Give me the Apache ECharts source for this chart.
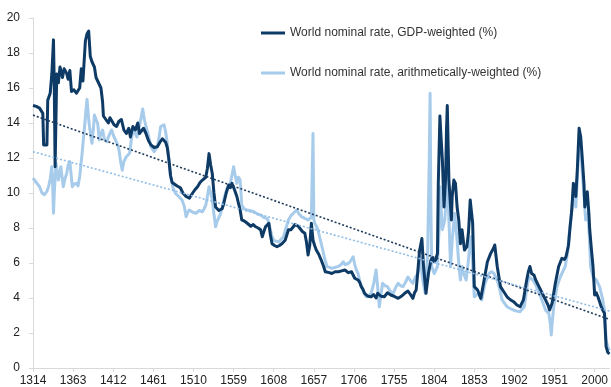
<!DOCTYPE html>
<html>
<head>
<meta charset="utf-8">
<script src="https://cdn.jsdelivr.net/npm/echarts@6/dist/echarts.min.js"></script>
<style>
  html, body { margin: 0; padding: 0; background: #ffffff; }
  #chart { width: 611px; height: 387px; }
</style>
</head>
<body>
<div id="chart"></div>
<script>
// Year ticks shown along the bottom axis
const tickYears = [1314, 1363, 1412, 1461, 1510, 1559, 1608, 1657, 1706, 1755, 1804, 1853, 1902, 1951, 2000];

// World nominal rate, GDP-weighted (%)
const gdpYears = [1314,1318,1322,1326,1327,1331,1332,1335,1337,1339,1340,1341,1343,1345,1347,1350,1352,1355,1357,1359,1361,1364,1367,1371,1373,1375,1376,1378,1380,1382,1384,1386,1389,1391,1393,1395,1397,1399,1400,1403,1406,1408,1410,1413,1416,1419,1422,1425,1428,1431,1433,1436,1439,1442,1444,1446,1449,1452,1455,1458,1462,1466,1469,1472,1476,1478,1480,1482,1484,1487,1490,1494,1497,1501,1505,1509,1512,1515,1518,1521,1525,1527,1529,1531,1533,1535,1537,1539,1541,1543,1545,1547,1550,1553,1555,1557,1560,1563,1565,1567,1569,1572,1575,1577,1580,1583,1586,1589,1592,1594,1596,1598,1600,1602,1604,1606,1609,1612,1615,1618,1620,1622,1624,1626,1629,1632,1634,1636,1638,1640,1643,1646,1648,1650,1652,1654,1656,1658,1660,1663,1666,1669,1671,1673,1676,1679,1683,1687,1691,1695,1699,1703,1705,1707,1709,1711,1713,1715,1717,1719,1723,1727,1730,1733,1735,1739,1743,1747,1751,1755,1760,1764,1768,1772,1775,1778,1780,1782,1784,1786,1789,1791,1794,1797,1800,1802,1804,1806,1808,1809,1811,1812,1814,1816,1818,1819,1820,1822,1825,1826,1828,1830,1832,1834,1836,1838,1841,1844,1846,1848,1851,1853,1857,1861,1865,1869,1873,1876,1878,1881,1885,1889,1893,1897,1901,1905,1909,1913,1917,1919,1921,1923,1926,1928,1932,1936,1940,1943,1945,1948,1952,1956,1960,1963,1965,1968,1970,1972,1974,1976,1977,1979,1981,1983,1985,1987,1988,1990,1991,1993,1994,1996,1998,2000,2002,2004,2006,2008,2010,2012,2014,2016,2018];
const gdpRates = [15.0,14.95,14.85,14.55,12.75,12.75,15.3,15.7,16.8,18.75,16.1,11.5,16.8,16.3,17.2,16.6,17.1,16.85,16.5,17.0,15.8,15.9,15.7,16.0,17.1,16.4,16.3,18.7,19.1,19.25,17.8,17.5,17.2,16.6,16.5,16.2,16.0,15.2,14.4,14.2,14.0,14.3,14.3,13.9,13.8,14.1,14.2,13.6,13.4,13.7,13.2,13.8,13.6,14.0,13.4,13.4,13.7,13.4,13.0,12.75,12.6,12.65,12.9,13.1,12.9,12.6,11.9,11.0,10.6,10.5,10.4,10.3,10.0,9.8,9.7,10.0,10.2,10.36,10.6,10.74,10.9,11.4,12.25,11.6,11.1,10.0,9.2,9.1,9.0,8.9,9.1,9.4,10.0,10.46,10.3,10.55,10.2,9.8,9.4,9.03,8.46,8.4,8.3,8.27,8.1,8.2,8.07,8.0,7.9,7.5,7.8,8.07,8.1,8.27,7.6,7.1,7.0,6.93,7.0,7.1,7.0,7.3,7.6,7.9,7.9,8.07,8.2,8.27,8.1,8.0,7.8,7.7,7.2,6.46,7.0,8.27,7.3,7.0,6.74,6.5,6.17,5.8,5.5,5.4,5.45,5.4,5.5,5.5,5.55,5.6,5.45,5.5,5.6,5.13,5.2,5.03,4.9,4.65,4.5,4.27,4.1,4.07,4.2,4.0,4.27,4.1,4.07,4.3,4.17,4.1,3.98,4.1,4.27,4.4,4.2,3.98,4.3,4.46,5.5,6.65,7.4,5.8,4.27,5.4,6.17,6.3,6.07,6.2,6.55,10.5,14.4,13.5,11.9,9.2,10.9,13.5,15.0,10.74,8.46,9.8,10.74,10.55,9.2,8.46,7.1,7.9,6.74,6.93,7.8,9.6,8.27,4.65,4.46,3.98,5.03,6.07,6.55,6.8,7.03,5.8,4.65,4.36,4.07,3.9,3.79,3.6,3.5,3.89,5.03,5.5,5.8,5.4,5.3,5.03,4.65,4.27,3.89,3.6,3.31,3.7,4.84,5.8,6.27,6.2,6.36,7.0,8.07,9.0,10.55,10.2,9.8,11.5,13.7,13.2,11.9,10.5,9.2,9.8,10.07,8.8,7.9,6.8,5.8,4.17,4.3,4.07,3.8,3.5,3.3,3.12,1.22,0.9,0.8];

// World nominal rate, arithmetically-weighted (%)
const arithYears = [1314,1318,1322,1325,1328,1331,1333,1335,1337,1338,1339,1340,1342,1345,1348,1351,1353,1355,1357,1359,1362,1364,1367,1369,1371,1374,1377,1379,1380,1382,1383,1386,1388,1389,1391,1393,1395,1397,1399,1401,1404,1407,1410,1413,1415,1417,1419,1421,1423,1425,1428,1430,1432,1434,1436,1439,1441,1443,1444,1446,1448,1450,1452,1455,1458,1460,1462,1464,1466,1468,1470,1472,1474,1476,1478,1480,1482,1485,1488,1492,1496,1499,1501,1503,1505,1509,1513,1517,1521,1523,1525,1527,1529,1531,1533,1535,1537,1539,1541,1543,1545,1548,1551,1553,1555,1557,1559,1561,1563,1565,1567,1569,1572,1575,1579,1584,1588,1592,1596,1600,1602,1604,1606,1608,1611,1614,1617,1620,1623,1626,1629,1632,1634,1636,1639,1642,1646,1650,1652,1654,1656,1657,1658,1660,1662,1664,1667,1670,1673,1676,1679,1683,1687,1690,1693,1695,1697,1700,1703,1705,1707,1709,1711,1713,1715,1718,1721,1724,1727,1730,1733,1735,1737,1739,1741,1744,1747,1750,1754,1757,1760,1763,1766,1769,1772,1775,1778,1781,1784,1787,1790,1793,1796,1798,1799,1800,1801,1804,1806,1808,1810,1811,1812,1814,1817,1819,1820,1822,1824,1826,1829,1832,1834,1836,1838,1840,1843,1845,1847,1849,1851,1853,1858,1862,1866,1871,1874,1877,1881,1884,1887,1893,1897,1901,1905,1909,1914,1918,1920,1922,1925,1928,1931,1934,1937,1940,1944,1946,1947,1948,1950,1954,1958,1961,1964,1967,1969,1972,1974,1977,1979,1981,1983,1985,1987,1989,1991,1992,1994,1995,1998,2002,2006,2010,2012,2014,2016,2018];
const arithRates = [10.85,10.6,10.36,10.0,9.9,10.1,10.36,10.8,11.5,10.5,8.84,10.0,11.7,10.74,11.5,10.36,10.8,11.1,11.6,11.8,10.36,10.5,10.55,10.4,10.93,12.27,13.8,14.9,15.35,14.2,13.8,12.84,13.8,14.46,14.2,13.98,13.03,13.4,13.6,13.1,12.93,13.3,13.6,13.2,13.12,12.8,12.46,11.8,11.3,11.8,12.07,12.0,12.27,13.0,13.6,13.4,13.2,13.6,13.8,14.3,14.8,14.2,13.8,13.3,12.65,12.5,12.36,12.5,12.65,13.2,13.8,13.7,13.9,13.5,12.84,11.9,10.93,10.3,9.98,9.8,9.6,9.2,8.65,8.9,9.03,8.9,8.84,9.0,8.93,9.1,9.3,9.8,10.36,10.0,9.6,8.8,8.07,8.4,8.46,8.8,9.2,9.8,10.27,10.4,10.55,11.0,11.5,11.0,10.55,10.9,10.74,9.3,9.1,9.03,9.0,8.93,8.8,8.74,8.6,8.55,8.3,7.9,7.5,7.3,7.25,7.2,7.35,7.5,8.0,8.46,8.7,8.84,8.9,9.03,8.8,8.65,8.55,8.46,8.4,8.6,13.4,8.5,8.27,8.1,7.9,7.5,6.93,6.3,5.8,5.75,5.7,5.75,5.8,5.9,6.07,5.9,5.9,6.0,6.2,6.36,5.9,5.6,5.4,5.0,4.65,4.3,4.07,4.15,4.27,4.8,5.6,4.6,3.5,4.2,4.84,4.7,4.65,4.4,4.27,4.6,4.84,4.7,4.65,4.9,5.2,5.0,4.84,5.2,5.4,6.36,5.03,4.27,6.55,12.0,15.7,9.0,5.8,5.4,5.6,5.8,8.0,10.36,9.5,7.9,8.46,10.0,11.1,8.5,5.8,7.3,8.84,7.3,6.0,5.03,5.8,5.4,5.03,5.8,6.74,7.5,6.0,4.07,4.27,3.89,4.84,5.4,5.5,5.4,5.03,4.5,3.89,3.5,3.4,3.31,3.25,3.22,3.5,4.84,5.2,5.3,5.0,4.74,4.4,4.07,3.7,3.31,3.12,2.5,1.89,2.5,3.5,4.65,5.2,5.5,5.8,6.6,7.7,9.0,9.98,9.2,11.0,13.2,12.5,11.1,9.8,8.46,8.7,8.84,7.0,5.8,5.2,5.03,4.65,3.89,3.3,1.6,1.2,1.0];

// Linear trend end points for each series
const trendYears = [1314, 2018];
const gdpTrend = [14.45, 2.78];
const arithTrend = [12.36, 3.25];

const pairs = (xs, ys) => xs.map((x, i) => [x, ys[i]]);

const NAVY = '#0e3a66';
const SKY = '#a7cbea';
const FONT = '"Liberation Sans", Arial, sans-serif';
const AXIS_GREY = '#d9d9d9';

const chart = echarts.init(document.getElementById('chart'), null, { renderer: 'canvas' });

chart.setOption({
  animation: false,
  backgroundColor: '#ffffff',
  textStyle: { fontFamily: FONT },
  grid: { left: 33, right: -2, top: 18, bottom: 19, containLabel: false },
  legend: [
    {
      data: ['World nominal rate, GDP-weighted (%)'],
      left: 256, top: 22,
      icon: 'rect', itemWidth: 24, itemHeight: 3,
      textStyle: { fontSize: 12, color: '#333', fontFamily: FONT }
    },
    {
      data: ['World nominal rate, arithmetically-weighted (%)'],
      left: 256, top: 62,
      icon: 'rect', itemWidth: 24, itemHeight: 3,
      textStyle: { fontSize: 12, color: '#333', fontFamily: FONT }
    }
  ],
  xAxis: {
    type: 'value',
    min: 1314,
    max: 2018,
    splitLine: { show: false },
    axisLine: { show: true, lineStyle: { color: AXIS_GREY, width: 1 } },
    axisTick: { show: true, customValues: tickYears, length: 4, lineStyle: { color: AXIS_GREY } },
    axisLabel: {
      customValues: tickYears,
      color: '#222', fontSize: 12, fontFamily: FONT, margin: 7,
      formatter: v => String(v)
    }
  },
  yAxis: {
    type: 'value',
    min: 0, max: 20, interval: 2,
    splitLine: { show: false },
    axisLine: { show: true, lineStyle: { color: AXIS_GREY, width: 1 } },
    axisTick: { show: true, length: 4, lineStyle: { color: AXIS_GREY } },
    axisLabel: { color: '#222', fontSize: 12, fontFamily: FONT, margin: 13 }
  },
  series: [
    {
      name: 'World nominal rate, arithmetically-weighted (%)',
      type: 'line',
      data: pairs(arithYears, arithRates),
      showSymbol: false,
      color: SKY,
      lineStyle: { color: SKY, width: 3, join: 'round' },
      z: 2
    },
    {
      name: 'World nominal rate, GDP-weighted (%)',
      type: 'line',
      data: pairs(gdpYears, gdpRates),
      showSymbol: false,
      color: NAVY,
      lineStyle: { color: NAVY, width: 3, join: 'round' },
      z: 3
    },
    {
      name: 'gdpTrend',
      type: 'line',
      data: pairs(trendYears, gdpTrend),
      showSymbol: false,
      lineStyle: { color: '#1d3b5c', width: 1.6, type: [2, 2] },
      z: 4
    },
    {
      name: 'arithTrend',
      type: 'line',
      data: pairs(trendYears, arithTrend),
      showSymbol: false,
      lineStyle: { color: '#8fbde6', width: 1.6, type: [2, 2] },
      z: 4
    }
  ]
});
</script>
</body>
</html>
